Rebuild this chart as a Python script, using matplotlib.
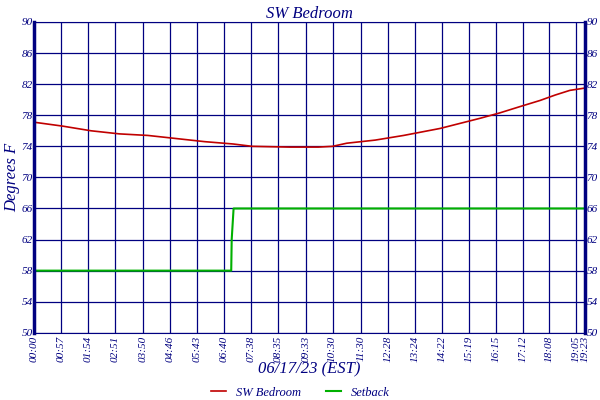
import matplotlib
matplotlib.use("Agg")
import matplotlib.pyplot as plt

tick_labels = ["00:00","00:57","01:54","02:51","03:50","04:46","05:43","06:40","07:38","08:35","09:33","10:30","11:30","12:28","13:24","14:22","15:19","16:15","17:12","18:08","19:05","19:23"]
def mins(s):
    h, m = s.split(":"); return int(h)*60+int(m)
tick_pos = [mins(s) for s in tick_labels]

temp_t = [0, 60, 120, 180, 240, 300, 360, 420, 460, 540, 600, 630, 660, 720, 780, 857, 941, 983, 1025, 1068, 1100, 1131, 1163]
temp_v = [77.1, 76.6, 76.0, 75.6, 75.4, 75.0, 74.6, 74.3, 74.0, 73.9, 73.9, 74.0, 74.4, 74.8, 75.4, 76.3, 77.6, 78.3, 79.1, 79.9, 80.6, 81.2, 81.5]
set_t = [0, 416, 417, 421, 1163]
set_v = [58, 58, 62, 66, 66]

navy = "#000080"
plt.rcParams['font.family'] = ['Liberation Serif', 'DejaVu Serif']
fig = plt.figure(figsize=(6, 4), dpi=100)
ax = fig.add_axes([0.057, 0.168, 0.918, 0.777])
ax.plot(temp_t, temp_v, color="#c00000", lw=1.2, label="SW Bedroom")
ax.plot(set_t, set_v, color="#00b000", lw=1.5, label="Setback")
ax.set_xlim(0, 1163); ax.set_ylim(50, 90)
ax.set_yticks(range(50, 91, 4))
ax.set_xticks(tick_pos)
ax.set_xticklabels(tick_labels, rotation=90, fontsize=8, style='italic', color=navy)
ax.tick_params(axis='y', labelsize=8, colors=navy, labelright=True, right=True, length=0, pad=1)
for l in ax.get_yticklabels(): l.set_style('italic')
ax.tick_params(axis='x', colors=navy, length=0, pad=2)
ax.grid(True, color=navy, lw=0.9)
for s in ax.spines.values():
    s.set_color(navy)
ax.spines['left'].set_linewidth(2.5); ax.spines['right'].set_linewidth(2.5)
ax.set_title("SW Bedroom", fontsize=12, style='italic', color=navy, pad=3)
ax.set_ylabel("Degrees F", fontsize=12, style='italic', color=navy, labelpad=1)
ax.set_xlabel("06/17/23 (EST)", fontsize=12, style='italic', color=navy, labelpad=0)
fig.legend(loc='lower center', ncol=2, frameon=False, bbox_to_anchor=(0.5, -0.025), handlelength=1.2, labelcolor=navy, prop={'style':'italic','size':9})
fig.savefig("out.png", dpi=100)
